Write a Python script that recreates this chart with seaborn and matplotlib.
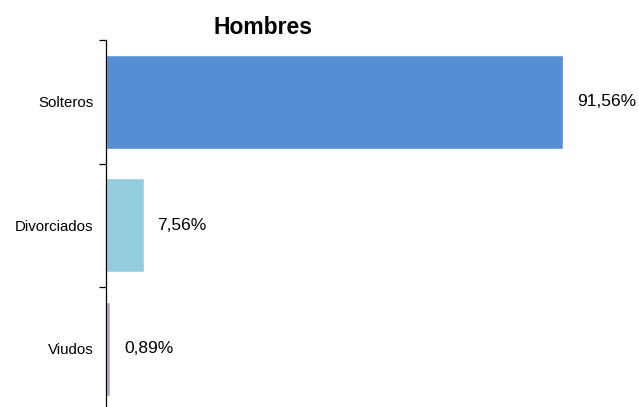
import matplotlib
matplotlib.use("Agg")
from matplotlib import pyplot as plt
import pandas as pd
import seaborn as sns

# Data
categories = ["Solteros", "Divorciados", "Viudos"]
values = [91.56, 7.56, 0.89]
labels = ["91,56%", "7,56%", "0,89%"]
colors = ["#558ED5", "#93CDDD", "#B3A2C7"]

df = pd.DataFrame({"estado": categories, "pct": values})

sns.set_style("white")
plt.rcParams["font.family"] = ["Liberation Sans", "DejaVu Sans"]
plt.rcParams["text.color"] = "black"
plt.rcParams["ytick.color"] = "black"
plt.rcParams["ytick.labelcolor"] = "black"

fig = plt.figure(figsize=(6.39, 4.07), dpi=100)
ax = fig.add_axes([106 / 639, -3.5 / 407, 499 / 639, 370.5 / 407])

sns.barplot(data=df, y="estado", x="pct", hue="estado", palette=colors,
            order=categories, width=0.76, legend=False, ax=ax, saturation=1)

ax.set_xlim(0, 100)
ax.set_ylim(2.5, -0.5)

for i, (v, lab) in enumerate(zip(values, labels)):
    ax.annotate(lab, xy=(v, i), xytext=(10, 0), textcoords="offset points",
                va="center", ha="left", fontsize=12.5, color="black")

# Spines / ticks
for s in ["top", "right", "bottom"]:
    ax.spines[s].set_visible(False)
ax.spines["left"].set_color("black")
ax.spines["left"].set_linewidth(0.9)
ax.set_xticks([])
ax.set_xlabel("")
ax.set_ylabel("")
ax.tick_params(axis="y", which="major", left=False, length=0, pad=9, labelsize=10.8)
ax.set_yticks([-0.5, 0.5, 1.5, 2.5], minor=True)
ax.tick_params(axis="y", which="minor", left=True, length=5, width=0.9,
               direction="out", color="black")

fig.text(263 / 639, 1 - 27 / 407, "Hombres", ha="center", va="center",
         fontsize=16.5, fontweight="bold", color="black")

fig.savefig("out.png", dpi=100)
